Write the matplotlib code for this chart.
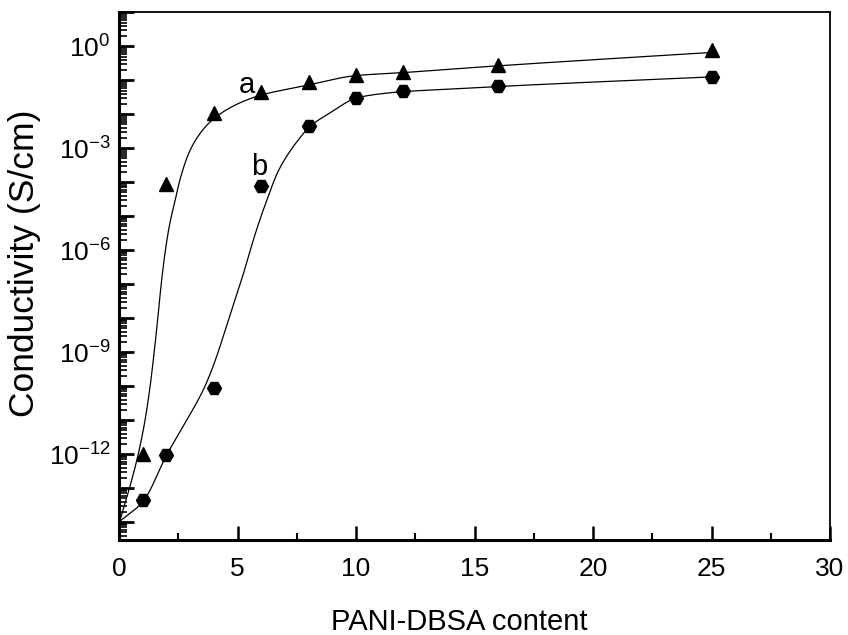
import numpy as np
import matplotlib
matplotlib.use("Agg")
import matplotlib.pyplot as plt
from matplotlib.ticker import FixedLocator, FuncFormatter, LogLocator, NullFormatter, MultipleLocator

plt.rcParams['font.family'] = ['Liberation Sans', 'DejaVu Sans']
plt.rcParams['mathtext.fontset'] = 'custom'
plt.rcParams['mathtext.rm'] = 'Liberation Sans'
plt.rcParams['mathtext.it'] = 'Liberation Sans:italic'
plt.rcParams['mathtext.bf'] = 'Liberation Sans:bold'

# ---- data ----
content = [1, 2, 4, 6, 8, 10, 12, 16, 25]
sigma_a = [1.0e-12, 9.0e-5, 1.1e-2, 4.6e-2, 8.8e-2, 1.45e-1, 1.8e-1, 2.9e-1, 7.6e-1]
sigma_b = [4.4e-14, 9.3e-13, 8.6e-11, 8.0e-5, 4.4e-3, 3.0e-2, 4.7e-2, 6.6e-2, 1.26e-1]

# fitted curves (log10 of conductivity)
fit_a_x = [0, 0.46, 0.82, 1.10, 1.31, 1.48, 1.63, 1.77, 1.94, 2.12, 2.38, 2.57,
           3.0, 3.49, 4.05, 5.02, 6.02, 7.71, 10.03, 12.07, 15.23, 25]
fit_a_log = [-14.05, -12.96, -11.98, -11.0, -10.02, -9.03, -8.05, -7.07, -6.09, -5.3,
             -4.5, -3.93, -3.06, -2.5, -2.1, -1.69, -1.43, -1.18, -0.86, -0.77, -0.61, -0.18]
fit_b_x = [0, 1.03, 2.01, 2.86, 3.55, 3.98, 4.6, 5.18, 5.78, 6.2, 6.75, 7.57, 8.06,
           8.9, 10.03, 11.01, 12.07, 13.97, 16.08, 25]
fit_b_log = [-14.0, -13.38, -12.03, -11.0, -10.12, -9.4, -8.1, -6.85, -5.45, -4.6,
             -3.63, -2.75, -2.36, -1.96, -1.52, -1.40, -1.33, -1.26, -1.18, -0.90]

x_ticks = [0, 5, 10, 15, 20, 25, 30]
y_labeled_exp = [0, -3, -6, -9, -12]


def smooth_line(xp, yp, n=600):
    """Monotone cubic (Fritsch-Carlson) drawing of a line through read points."""
    xp = np.asarray(xp, float)
    yp = np.asarray(yp, float)
    h = np.diff(xp)
    d = np.diff(yp) / h
    m = np.zeros_like(yp)
    m[0], m[-1] = d[0], d[-1]
    for k in range(1, len(xp) - 1):
        if d[k - 1] * d[k] > 0:
            w1 = 2 * h[k] + h[k - 1]
            w2 = h[k] + 2 * h[k - 1]
            m[k] = (w1 + w2) / (w1 / d[k - 1] + w2 / d[k])
    xs = np.linspace(xp[0], xp[-1], n)
    idx = np.clip(np.searchsorted(xp, xs) - 1, 0, len(xp) - 2)
    t = (xs - xp[idx]) / h[idx]
    h00 = 2 * t**3 - 3 * t**2 + 1
    h10 = t**3 - 2 * t**2 + t
    h01 = -2 * t**3 + 3 * t**2
    h11 = t**3 - t**2
    ys = (h00 * yp[idx] + h10 * h[idx] * m[idx] + h01 * yp[idx + 1]
          + h11 * h[idx] * m[idx + 1])
    return xs, ys


fig = plt.figure(figsize=(8.48, 6.35), dpi=100)
ax = fig.add_axes([119/848, 95/635, 711/848, 528/635])

for fx, fl in [(fit_a_x, fit_a_log), (fit_b_x, fit_b_log)]:
    xs, ys = smooth_line(fx, fl)
    ax.plot(xs, 10.0 ** ys, color='black', lw=0.9)
ax.plot(content, sigma_a, linestyle='none', marker='^', ms=9.5, color='black')
ax.plot(content, sigma_b, linestyle='none', marker='H', ms=10, color='black')

ax.set_yscale('log')
ax.set_xlim(0, 30)
ax.set_ylim(10 ** -14.53, 10 ** 1.01)

ax.xaxis.set_major_locator(FixedLocator(x_ticks))
ax.xaxis.set_minor_locator(MultipleLocator(2.5))

ax.yaxis.set_major_locator(FixedLocator([10.0 ** k for k in range(-15, 2)]))
def yfmt(v, pos):
    k = int(round(np.log10(v)))
    return r'$10^{%d}$' % k if k in y_labeled_exp else ''
ax.yaxis.set_major_formatter(FuncFormatter(yfmt))
ax.yaxis.set_minor_locator(LogLocator(base=10, subs=np.arange(2, 10), numticks=100))
ax.yaxis.set_minor_formatter(NullFormatter())

ax.tick_params(axis='both', which='both', direction='in', top=False, right=False, color='black')
ax.tick_params(axis='y', which='major', length=11, width=2.0, labelsize=19, pad=6)
ax.tick_params(axis='y', which='minor', length=6, width=1.2)
ax.tick_params(axis='x', which='major', length=10, width=1.8, labelsize=19, pad=12)
ax.tick_params(axis='x', which='minor', length=5, width=1.5)

for s in ['left', 'bottom']:
    ax.spines[s].set_linewidth(2.2)
for s in ['top', 'right']:
    ax.spines[s].set_linewidth(1.3)

ax.set_xlabel('PANI-DBSA content', fontsize=21)
ax.xaxis.set_label_coords(0.478, -0.128)
ax.set_ylabel('Conductivity (S/cm)', fontsize=25.5, va='center')
ax.yaxis.set_label_coords(-0.1336, 0.525)

ax.text(5.40, 10 ** -1.364, 'a', fontsize=21, ha='center', va='baseline')
ax.text(5.91, 10 ** -3.78, 'b', fontsize=21, ha='center', va='baseline')

fig.savefig('out.png', dpi=100)
